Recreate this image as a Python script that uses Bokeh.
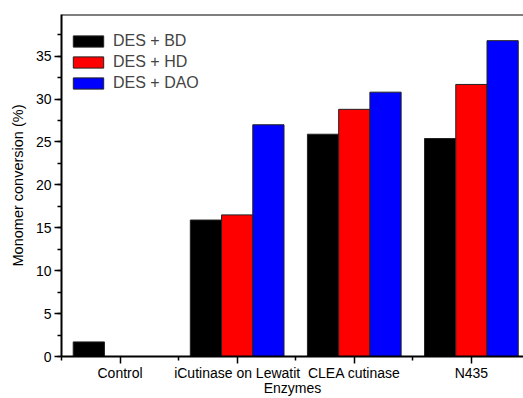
import math
from bokeh.plotting import figure
from bokeh.models import (Range1d, FixedTicker, SingleIntervalTicker,
                          Legend, LegendItem, ColumnDataSource, Span)
from bokeh.embed import file_html
from bokeh.resources import INLINE

categories = ["Control", "iCutinase on Lewatit", "CLEA cutinase", "N435"]
series_names = ["DES + BD", "DES + HD", "DES + DAO"]
bd = [1.7, 15.9, 25.9, 25.4]
hd = [float("nan"), 16.5, 28.8, 31.7]
dao = [float("nan"), 27.0, 30.8, 36.8]
colors = ["#000000", "#ff0000", "#0000ff"]

FONT = "Liberation Sans"
YMAX = 39.85

p = figure(width=523, height=398, output_backend="svg", toolbar_location=None,
           x_range=Range1d(0, 3.945), y_range=Range1d(0, YMAX),
           min_border_left=61, min_border_top=14, min_border_bottom=0,
           min_border_right=0)
p.background_fill_color = "white"
p.border_fill_color = "white"
p.outline_line_color = None
p.xgrid.visible = False
p.ygrid.visible = False

p.add_layout(Span(location=YMAX, dimension="width", line_color="black", line_width=2))

bw = 0.2667
offsets = [-bw, 0.0, bw]
renderers = []
for vals, off, col in zip([bd, hd, dao], offsets, colors):
    src = ColumnDataSource(dict(x=[i + 0.5 + off for i in range(len(categories))], top=vals))
    r = p.vbar(x="x", top="top", width=bw, bottom=0, source=src,
               fill_color=col, line_color="#222222", line_width=1)
    renderers.append(r)

# x axis
p.xaxis.ticker = FixedTicker(ticks=[i + 0.5 for i in range(len(categories))],
                             minor_ticks=[float(i) for i in range(len(categories))])
p.xaxis.major_label_overrides = {i + 0.5: c for i, c in enumerate(categories)}
p.xaxis.axis_label = "Enzymes"
# y axis
p.yaxis.ticker = SingleIntervalTicker(interval=5, num_minor_ticks=2)
p.yaxis.axis_label = "Monomer conversion (%)"

for ax in (p.xaxis[0], p.yaxis[0]):
    ax.axis_line_width = 2
    ax.axis_line_color = "black"
    ax.major_tick_out = 7
    ax.major_tick_in = 0
    ax.minor_tick_out = 4
    ax.minor_tick_in = 0
    ax.major_tick_line_width = 1.5
    ax.minor_tick_line_width = 1.5
    ax.major_label_text_font = FONT
    ax.major_label_text_font_size = "14px"
    ax.major_label_text_color = "black"
    ax.axis_label_text_font = FONT
    ax.axis_label_text_font_size = "14.5px"
    ax.axis_label_text_font_style = "normal"
    ax.axis_label_text_color = "black"
p.xaxis.major_label_standoff = 1
p.xaxis.axis_label_standoff = -4
p.xaxis.axis_label_text_font_size = "14px"
p.yaxis.major_label_standoff = 3
p.yaxis.axis_label_standoff = 7

legend = Legend(items=[LegendItem(label=n, renderers=[r]) for n, r in zip(series_names, renderers)])
legend.border_line_color = None
legend.background_fill_alpha = 0
legend.label_text_font = FONT
legend.label_text_font_size = "16px"
legend.glyph_width = 38
legend.glyph_height = 14
legend.label_height = 17
legend.spacing = 3
legend.label_standoff = 6
legend.margin = 0
legend.padding = 0
legend.location = (8, 264)
p.add_layout(legend)

open("out.html", "w").write(file_html(p, INLINE))
